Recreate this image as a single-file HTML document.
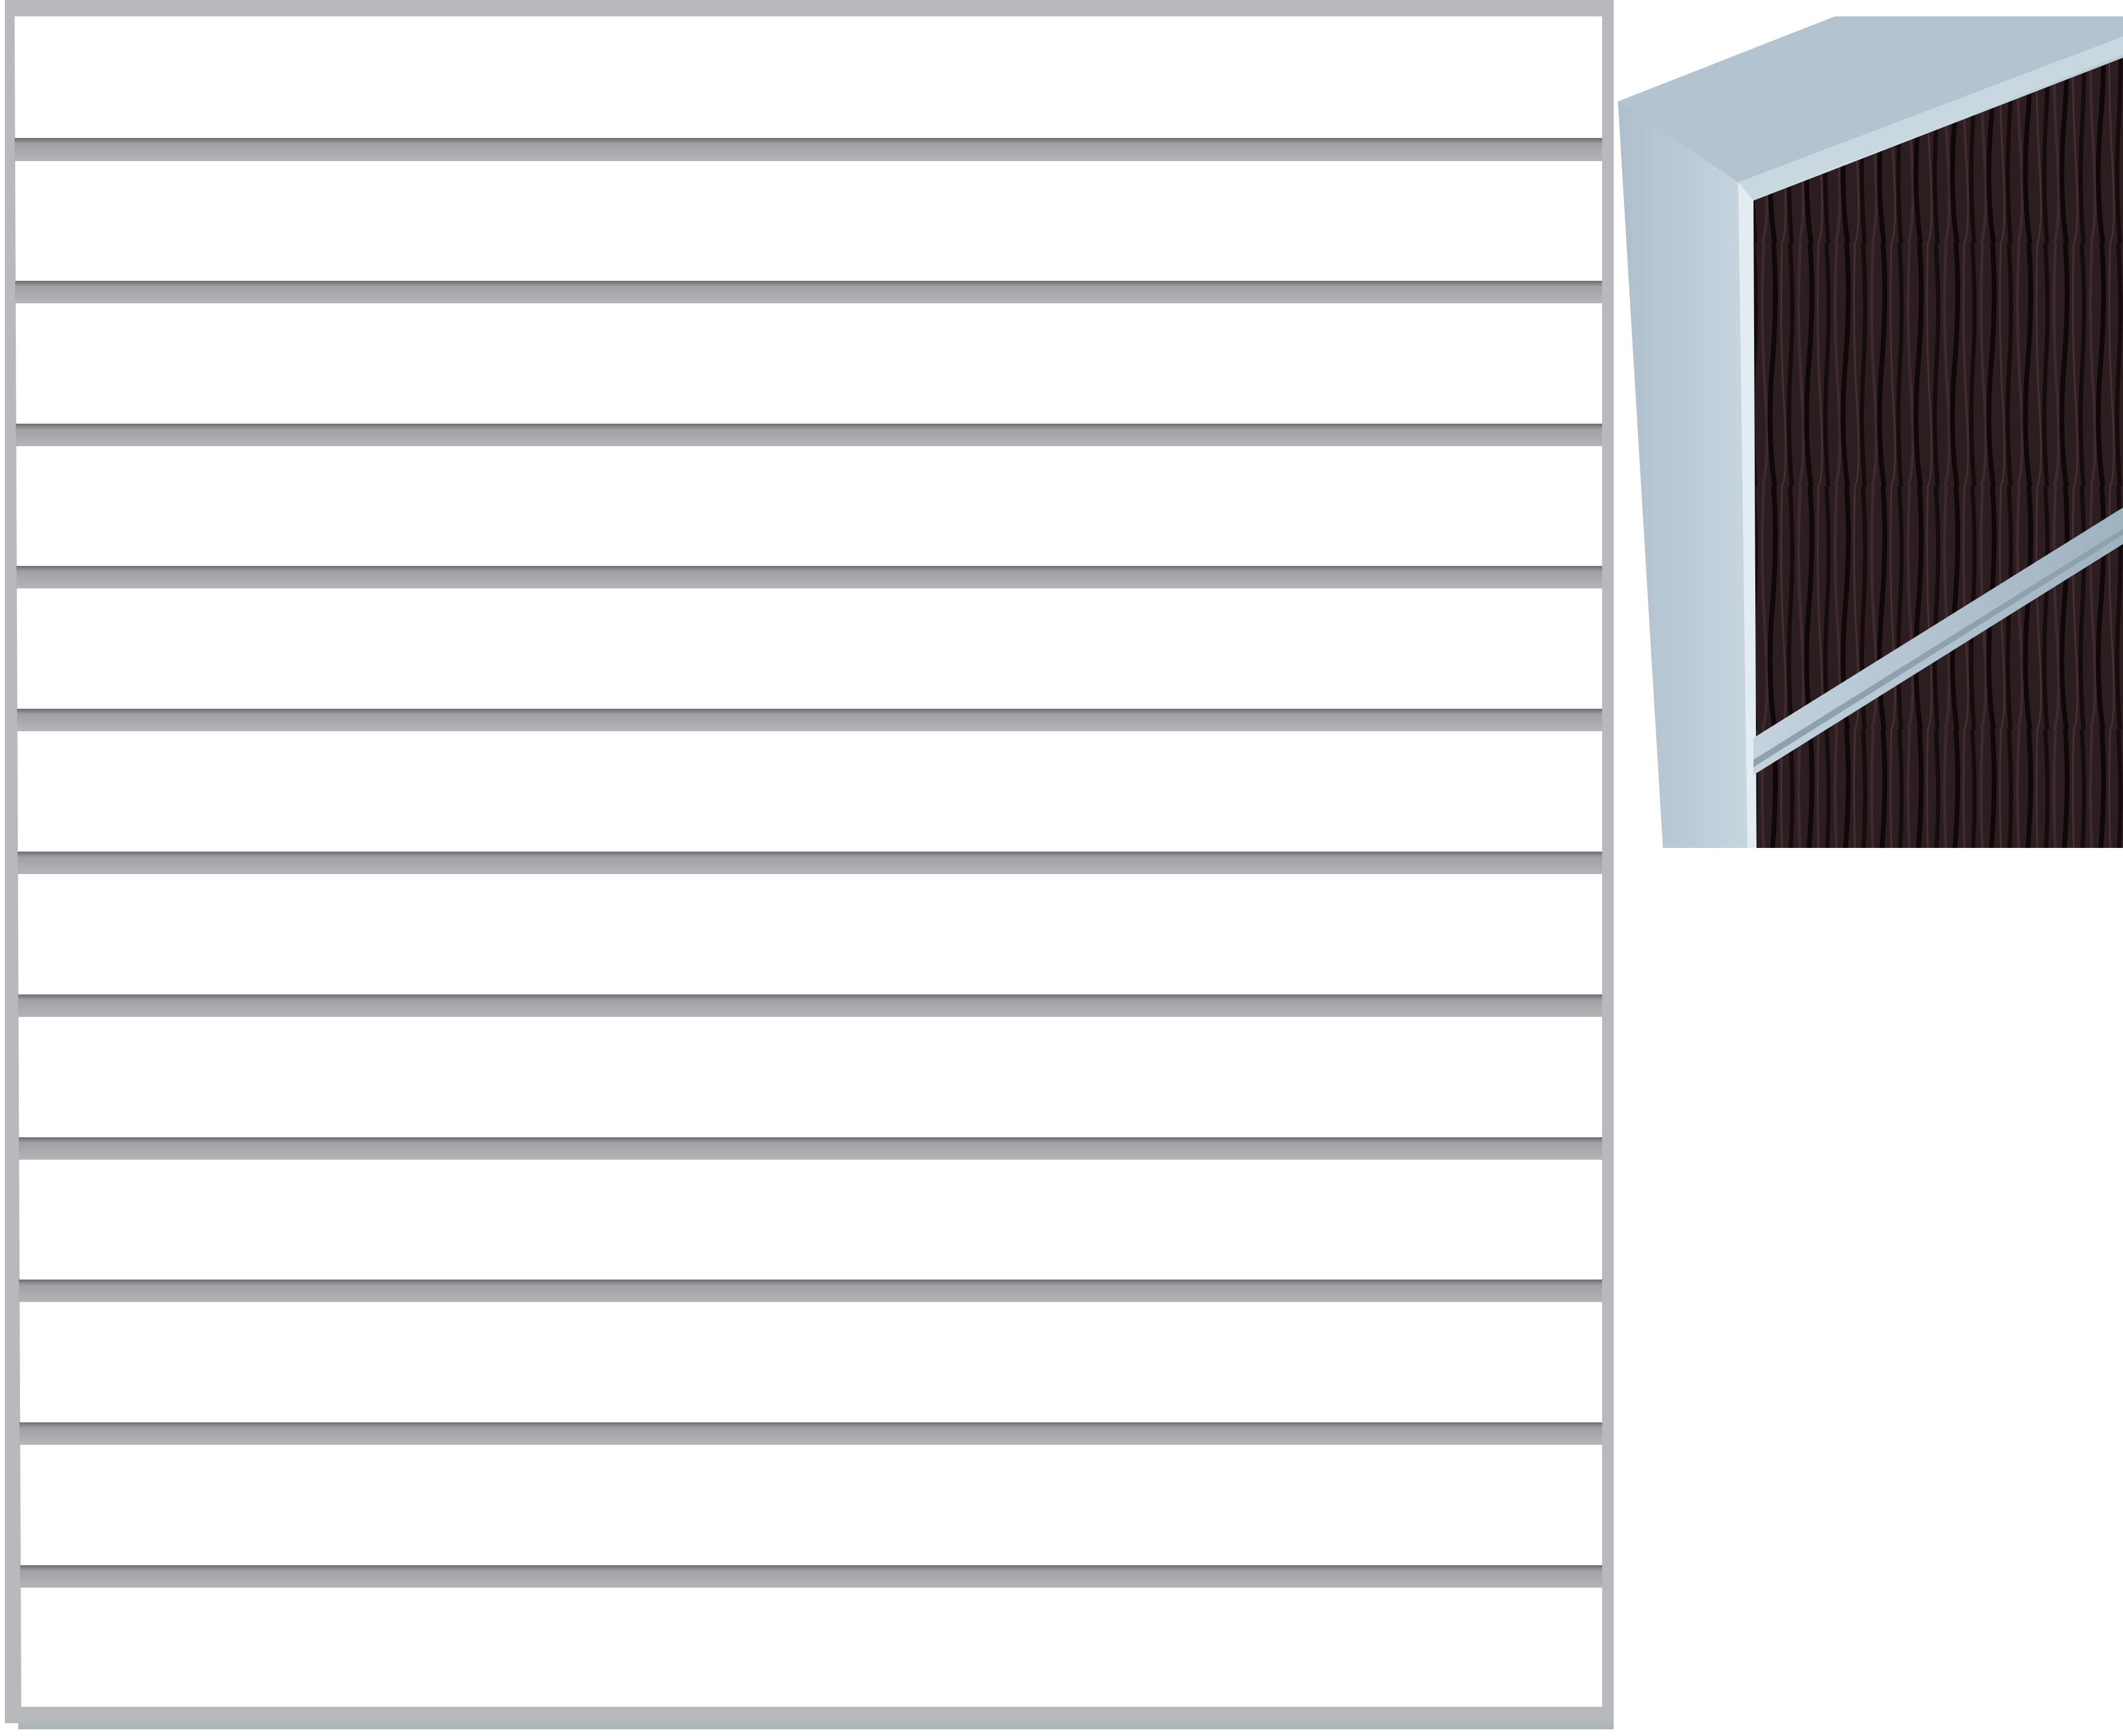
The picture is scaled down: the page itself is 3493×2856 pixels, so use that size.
<!DOCTYPE html>
<html><head><meta charset="utf-8"><style>html,body{margin:0;padding:0;background:#fff}svg{display:block}</style></head>
<body>
<svg width="3493" height="2856" viewBox="0 0 3493 2856" xmlns="http://www.w3.org/2000/svg">
<defs>
<linearGradient id="slat" x1="0" y1="0" x2="0" y2="1">
<stop offset="0" stop-color="#6c6d71"/><stop offset="0.25" stop-color="#a0a1a5"/><stop offset="1" stop-color="#b4b5b8"/>
</linearGradient>
<linearGradient id="slath" x1="0" y1="0" x2="1" y2="0">
<stop offset="0" stop-color="#000" stop-opacity="0.15"/><stop offset="0.05" stop-color="#000" stop-opacity="0"/><stop offset="1" stop-color="#fff" stop-opacity="0.1"/>
</linearGradient>
<linearGradient id="alu" x1="0" y1="0" x2="1" y2="0">
<stop offset="0" stop-color="#aebfcc"/><stop offset="0.4" stop-color="#d6e2ea"/><stop offset="1" stop-color="#b9c9d5"/>
</linearGradient>
<linearGradient id="alu2" x1="0" y1="0" x2="1" y2="0">
<stop offset="0" stop-color="#c4d3de"/><stop offset="1" stop-color="#9fb2c0"/>
</linearGradient>
<pattern id="wood" width="60" height="400" patternUnits="userSpaceOnUse">
<rect width="60" height="400" fill="#2c1d20"/>
<path d="M5 0 Q12 100 6 200 T8 400" stroke="#150b0d" stroke-width="7" fill="none"/>
<path d="M22 0 Q16 120 24 240 T20 400" stroke="#3d2a2d" stroke-width="5" fill="none"/>
<path d="M38 0 Q45 90 36 200 T40 400" stroke="#100708" stroke-width="8" fill="none"/>
<path d="M52 0 Q48 140 55 260 T52 400" stroke="#45302f" stroke-width="3" fill="none"/>
</pattern>
</defs>
<!-- main frame -->
<polygon points="8,0 2655,0 2655,2835 8,2835" fill="#b8b9bc"/>
<rect x="30" y="2835" width="2625" height="10" fill="#8a979e" opacity="0.7"/>
<polygon points="24,27 2636,27 2636,2808 35,2808" fill="#fff"/>
<g>
<rect x="24" y="227" width="2612" height="38" fill="url(#slat)"/>
<rect x="25" y="462" width="2611" height="37" fill="url(#slat)"/>
<rect x="26" y="697" width="2610" height="37" fill="url(#slat)"/>
<rect x="27" y="931" width="2609" height="37" fill="url(#slat)"/>
<rect x="28" y="1166" width="2608" height="37" fill="url(#slat)"/>
<rect x="29" y="1401" width="2607" height="37" fill="url(#slat)"/>
<rect x="30" y="1636" width="2606" height="37" fill="url(#slat)"/>
<rect x="31" y="1871" width="2605" height="37" fill="url(#slat)"/>
<rect x="31" y="2105" width="2605" height="37" fill="url(#slat)"/>
<rect x="32" y="2340" width="2604" height="37" fill="url(#slat)"/>
<rect x="33" y="2575" width="2603" height="37" fill="url(#slat)"/>
</g>
<!-- photo -->
<polygon points="2662,167 3019,27 3493,27 3493,1395 2736,1395" fill="url(#alu)"/>
<polygon points="2662,167 3019,27 3493,27 3493,60 2860,300" fill="#b3c3cf"/>
<polygon points="2860,300 3493,60 3493,90 2880,330" fill="#c9d7e1"/>
<polygon points="2860,300 2885,330 2890,1395 2875,1395" fill="#e3ecf2"/>
<polygon points="2885,330 3493,95 3493,1395 2890,1395" fill="url(#wood)"/>
<polygon points="2885,1214 3493,835 3493,895 2885,1275" fill="url(#alu2)"/>
<polygon points="2885,1250 3493,870 3493,880 2885,1262" fill="#8fa1ae"/>
</svg>
</body></html>
